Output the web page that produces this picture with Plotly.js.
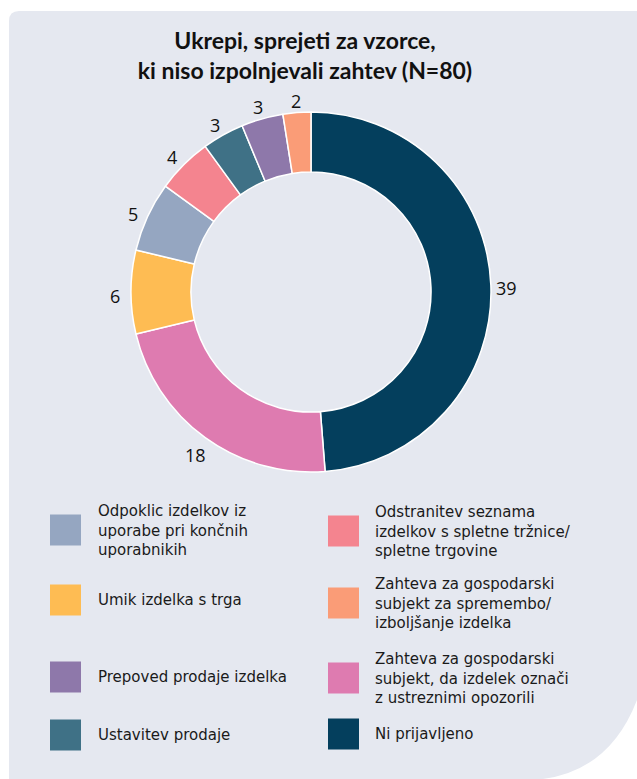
<!DOCTYPE html>
<html>
<head>
<meta charset="utf-8">
<script src="https://cdn.plot.ly/plotly-3.0.1.min.js"></script>
<style>
  html, body { margin: 0; padding: 0; background: #ffffff; }
  #chart { width: 637px; height: 779px; }
</style>
</head>
<body>
<div id="chart"></div>
<script>
// ---- data ----
const categories = [
  "Ni prijavljeno",
  "Zahteva za gospodarski subjekt, da izdelek označi z ustreznimi opozorili",
  "Umik izdelka s trga",
  "Odpoklic izdelkov iz uporabe pri končnih uporabnikih",
  "Odstranitev seznama izdelkov s spletne tržnice/ spletne trgovine",
  "Ustavitev prodaje",
  "Prepoved prodaje izdelka",
  "Zahteva za gospodarski subjekt za spremembo/ izboljšanje izdelka"
];
const values = [39, 18, 6, 5, 4, 3, 3, 2];
const colors = ["#043f5d", "#de7bb0", "#febc53", "#95a6c1", "#f4848f", "#3f7186", "#8e78aa", "#fa9c77"];

// legend text (with line breaks as in the reference)
const legendText = [
  "Ni prijavljeno",
  "Zahteva za gospodarski<br>subjekt, da izdelek označi<br>z ustreznimi opozorili",
  "Umik izdelka s trga",
  "Odpoklic izdelkov iz<br>uporabe pri končnih<br>uporabnikih",
  "Odstranitev seznama<br>izdelkov s spletne tržnice/<br>spletne trgovine",
  "Ustavitev prodaje",
  "Prepoved prodaje izdelka",
  "Zahteva za gospodarski<br>subjekt za spremembo/<br>izboljšanje izdelka"
];
const titleText = "Ukrepi, sprejeti za vzorce,<br>ki niso izpolnjevali zahtev (N=80)";

// ---- layout helpers (pixel -> paper) ----
const W = 637, H = 779;
const px = x => x / W;
const py = y => 1 - y / H;
const P = (x, y) => px(x) + "," + py(y);

// pie geometry (pixels)
const CX = 311, CY = 292, R = 180;

// legend slot positions: [column, centerY] per category index
const legendSlots = [
  [1, 734], [1, 678], [0, 600], [0, 530],
  [1, 531], [0, 735], [0, 677], [1, 603]
];
const colX = [{sq: 50, tx: 96}, {sq: 328, tx: 373}];
const SQ = 31;
const FONT = "'Open Sans', 'Noto Sans', sans-serif";
const LEGFONT = "'DejaVu Sans', 'Open Sans', sans-serif";

const shapes = [{
  type: "path", xref: "paper", yref: "paper", layer: "below",
  path: "M " + P(9, 21) + " Q " + P(9, 11) + " " + P(19, 11) +
        " L " + P(637, 11) + " L " + P(637, 700) +
        " Q " + P(610, 770) + " " + P(543, 779) +
        " L " + P(9, 779) + " Z",
  fillcolor: "#e5e8f0", line: {width: 0}
}];
const annotations = [];
categories.forEach((c, i) => {
  const [col, cy] = legendSlots[i];
  const cx = colX[col];
  shapes.push({
    type: "rect", xref: "paper", yref: "paper",
    x0: px(cx.sq), x1: px(cx.sq + SQ), y0: py(cy + SQ / 2), y1: py(cy - SQ / 2),
    fillcolor: colors[i], line: {width: 0}
  });
  annotations.push({
    xref: "paper", yref: "paper", x: px(cx.tx), y: py(cy),
    xanchor: "left", yanchor: "middle", align: "left", showarrow: false,
    text: legendText[i],
    font: {family: LEGFONT, size: 15, color: "#1a1a1a"}
  });
});

// value labels just outside each slice, at the slice's mid angle
const total = values.reduce((a, b) => a + b, 0);
let cum = 0;
values.forEach((v, i) => {
  const mid = (cum + v / 2) / total * 2 * Math.PI;
  cum += v;
  const rr = R + 16;
  annotations.push({
    xref: "paper", yref: "paper",
    x: px(CX + rr * Math.sin(mid)), y: py(CY - rr * Math.cos(mid)),
    xanchor: "center", yanchor: "middle", yshift: -4, showarrow: false,
    text: String(v),
    font: {family: FONT, size: 18, color: "#111111"}
  });
});

const trace = {
  type: "pie",
  labels: categories,
  values: values,
  sort: false,
  direction: "clockwise",
  rotation: 0,
  hole: 0.667,
  marker: {colors: colors, line: {color: "#ffffff", width: 1.5}},
  textinfo: "none",
  domain: {x: [px(CX - R), px(CX + R)], y: [py(CY + R), py(CY - R)]},
  showlegend: false,
  hoverinfo: "label+value"
};

const layout = {
  width: W, height: H,
  margin: {l: 0, r: 0, t: 0, b: 0},
  paper_bgcolor: "#ffffff",
  plot_bgcolor: "rgba(0,0,0,0)",
  showlegend: false,
  title: {
    text: "<b>" + titleText + "</b>",
    x: px(305), xanchor: "center",
    y: py(49), yanchor: "middle", yref: "container",
    font: {family: "Lato, 'Open Sans', sans-serif", size: 23, color: "#111111"}
  },
  shapes: shapes,
  annotations: annotations
};

Plotly.newPlot("chart", [trace], layout, {displayModeBar: false, staticPlot: true});
</script>
</body>
</html>
